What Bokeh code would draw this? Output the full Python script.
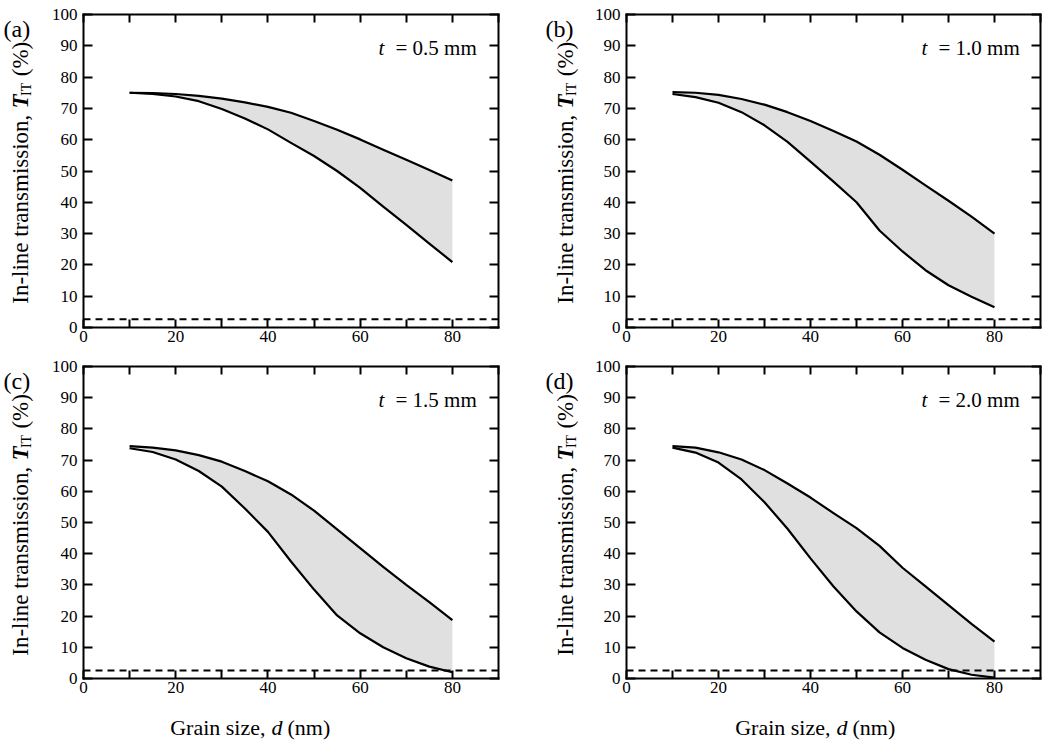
from bokeh.plotting import figure
from bokeh.layouts import row, column
from bokeh.models import LinearAxis, FixedTicker, Range1d, Span, Label
from bokeh.core.properties import value
from bokeh.embed import file_html
from bokeh.resources import INLINE

# ---------------- data ----------------
grain_size = [10, 15, 20, 25, 30, 35, 40, 45, 50, 55, 60, 65, 70, 75, 80]

upper_a = [75.0, 74.9, 74.6, 74.0, 73.1, 71.9, 70.5, 68.6, 66.0, 63.2, 60.1, 56.8, 53.6, 50.3, 47.0]
lower_a = [75.0, 74.6, 73.8, 72.3, 69.8, 66.8, 63.3, 59.0, 54.8, 50.0, 44.6, 38.6, 32.8, 26.8, 20.9]

upper_b = [75.2, 75.0, 74.3, 73.0, 71.2, 68.8, 66.0, 62.8, 59.4, 55.2, 50.4, 45.4, 40.5, 35.4, 30.0]
lower_b = [74.6, 73.6, 71.8, 68.8, 64.6, 59.3, 53.0, 46.6, 40.0, 31.0, 24.3, 18.3, 13.5, 9.8, 6.5]

upper_c = [74.5, 74.0, 73.1, 71.6, 69.5, 66.5, 63.2, 59.0, 53.8, 47.8, 41.8, 35.8, 30.0, 24.5, 18.7]
lower_c = [73.8, 72.6, 70.2, 66.5, 61.5, 54.5, 47.0, 37.5, 28.5, 20.2, 14.5, 10.0, 6.5, 3.8, 2.0]

upper_d = [74.5, 74.0, 72.5, 70.2, 66.8, 62.5, 58.0, 53.0, 48.2, 42.5, 35.5, 29.5, 23.5, 17.5, 11.8]
lower_d = [74.0, 72.4, 69.2, 63.8, 56.5, 48.0, 38.5, 29.5, 21.5, 14.8, 9.8, 6.0, 3.0, 1.2, 0.3]

thickness = ["0.5", "1.0", "1.5", "2.0"]
panel_letters = ["(a)", "(b)", "(c)", "(d)"]
threshold = 2.6

x_major_ticks = [0, 20, 40, 60, 80]
x_minor_ticks = [10, 30, 50, 70]
x_all_ticks = [0, 10, 20, 30, 40, 50, 60, 70, 80, 90]
y_ticks = [0, 10, 20, 30, 40, 50, 60, 70, 80, 90, 100]

y_label_main = "In-line transmission,"
y_label_sym = "T"
y_label_sub = "IT"
y_label_unit = "(%)"
x_label_main = "Grain size,"
x_label_sym = "d"
x_label_unit = "(nm)"

FONT = "Liberation Serif"
ROT = 1.5707963267948966


def style_axis(ax, tick_in, standoff):
    ax.axis_line_width = 2
    ax.axis_line_color = "black"
    ax.axis_line_cap = "square"
    ax.major_tick_line_width = 2
    ax.major_tick_line_color = "black"
    ax.major_tick_in = tick_in
    ax.major_tick_out = 0
    ax.minor_tick_line_width = 2
    ax.minor_tick_line_color = "black"
    ax.minor_tick_in = tick_in
    ax.minor_tick_out = 0
    ax.major_label_text_font = FONT
    ax.major_label_text_color = "black"
    ax.major_label_text_font_size = "17px"
    ax.major_label_standoff = standoff


def blank_fig(w, h):
    f = figure(width=w, height=h, output_backend="svg", toolbar_location=None, title=None,
               x_range=Range1d(0, w), y_range=Range1d(0, h),
               x_axis_location=None, y_axis_location=None, min_border=0)
    f.outline_line_color = None
    f.grid.visible = False
    return f


def txt(f, x, y, s, size, style="normal", align="left", angle=0.0, baseline="middle"):
    f.text(x=[x], y=[y], text=[s], angle=angle, text_font=value(FONT),
           text_font_size=value(size), text_font_style=style, text_align=align,
           text_baseline=baseline, text_color="black")


def make_panel(idx, upper, lower, width, height, bl, br, bt, bb):
    p = figure(width=width, height=height, output_backend="svg", toolbar_location=None,
               title=None, x_range=Range1d(0, 90), y_range=Range1d(0, 100),
               x_axis_location=None, y_axis_location=None,
               min_border_left=bl, min_border_right=br,
               min_border_top=bt, min_border_bottom=bb)
    p.outline_line_color = None
    p.grid.visible = False

    bottom = LinearAxis(ticker=FixedTicker(ticks=x_major_ticks, minor_ticks=x_minor_ticks))
    style_axis(bottom, 8, 3)
    p.add_layout(bottom, "below")
    top = LinearAxis(ticker=FixedTicker(ticks=[], minor_ticks=x_all_ticks))
    style_axis(top, 8, 0)
    p.add_layout(top, "above")
    left = LinearAxis(ticker=FixedTicker(ticks=y_ticks))
    style_axis(left, 9, 6)
    p.add_layout(left, "left")
    right = LinearAxis(ticker=FixedTicker(ticks=[], minor_ticks=y_ticks))
    style_axis(right, 9, 0)
    p.add_layout(right, "right")

    p.varea(x=grain_size, y1=lower, y2=upper, fill_color="#e0e0e0", fill_alpha=1.0)
    p.line(grain_size, upper, line_color="black", line_width=2.2, line_join="round")
    p.line(grain_size, lower, line_color="black", line_width=2.2, line_join="round")
    p.add_layout(Span(location=threshold, dimension="width", line_color="black",
                      line_width=2, line_dash="7 5"))

    fh = height - bt - bb
    ty = fh - 33
    p.add_layout(Label(x=295, y=ty, x_units="screen", y_units="screen", text="t",
                       text_font=FONT, text_font_size="21px", text_font_style="italic",
                       text_baseline="middle", text_color="black"))
    p.add_layout(Label(x=312, y=ty, x_units="screen", y_units="screen",
                       text="= " + thickness[idx] + " mm",
                       text_font=FONT, text_font_size="21px",
                       text_baseline="middle", text_color="black"))
    return p


def make_side(idx, w, h, xc, letter_x, letter_top, ysym):
    f = blank_fig(w, h)
    txt(f, letter_x, letter_top, panel_letters[idx], "24px", baseline="top")
    txt(f, xc, ysym - 7, y_label_main, "23px", align="right", angle=ROT)
    txt(f, xc, ysym, y_label_sym, "23px", style="bold italic", angle=ROT)
    txt(f, xc + 6, ysym + 14, y_label_sub, "14px", angle=ROT)
    txt(f, xc, ysym + 36, y_label_unit, "23px", angle=ROT)
    return f


H_TOP, H_BOT, H_XL = 350, 352, 39

side_a = make_side(0, 40, H_TOP, 20, 3, H_TOP - 2, 245)
fig_a = make_panel(0, upper_a, lower_a, 490, H_TOP, 43, 32, 14, 23)
side_b = make_side(1, 60, H_TOP, 35, 15, H_TOP - 2, 245)
fig_b = make_panel(1, upper_b, lower_b, 452, H_TOP, 36, 2, 14, 23)

side_c = make_side(2, 40, H_BOT, 20, 3, H_BOT - 2, 246)
fig_c = make_panel(2, upper_c, lower_c, 490, H_BOT, 43, 32, 16, 24)
side_d = make_side(3, 60, H_BOT, 35, 15, H_BOT - 2, 246)
fig_d = make_panel(3, upper_d, lower_d, 452, H_BOT, 36, 2, 16, 24)

xlab = blank_fig(1042, H_XL)
for xd in (271, 836):
    txt(xlab, xd - 6, 14, x_label_main, "22px", align="right")
    txt(xlab, xd, 14, x_label_sym, "22px", style="italic")
    txt(xlab, xd + 16, 14, x_label_unit, "22px")

layout = column(row(side_a, fig_a, side_b, fig_b),
                row(side_c, fig_c, side_d, fig_d),
                xlab)

open("out.html", "w").write(file_html(layout, INLINE))
